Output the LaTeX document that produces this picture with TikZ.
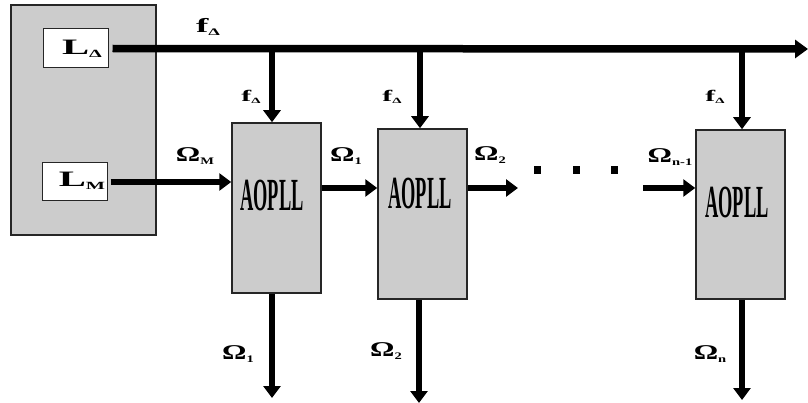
\documentclass[tikz,border=0pt]{standalone}
\usepackage{fontspec}
\setmainfont{Liberation Serif}
\usetikzlibrary{arrows.meta}
\newcommand\wlab[3]{\scalebox{#1}[1]{\bfseries\fontsize{#2}{#2}\selectfont #3}}
\newcommand\sbs[2]{\raisebox{-0.25ex}{\fontsize{#1}{#1}\selectfont #2}}
\begin{document}
\begin{tikzpicture}[x=1pt,y=-1pt,
  gbox/.style={draw=black!85,line width=1.5pt,fill=black!20,inner sep=0pt},
  wbox/.style={draw=black!85,line width=1pt,fill=white,inner sep=0pt},
  wire/.style={line width=6.5pt,-{Triangle[length=12pt,width=17pt]}},
  busline/.style={line width=7.5pt,-{Triangle[length=13pt,width=18pt]}},
  lab/.style={inner sep=0pt},
  aop/.style={inner sep=0pt,font=\fontsize{46}{46}\selectfont},
  dotsq/.style={fill=black,inner sep=0pt,minimum width=7pt,minimum height=8pt}
]
\useasboundingbox (0,0) rectangle (808,403);
% boxes
\node[gbox,minimum width=145pt,minimum height=230pt] (ctl) at (83.5,120) {};
\node[wbox,minimum width=65pt,minimum height=39pt] (Ld) at (75.5,48.5) {};
\node[wbox,minimum width=65pt,minimum height=38pt] (Lm) at (74.5,182) {};
\node[gbox,minimum width=89pt,minimum height=170pt] (A1) at (276.5,208) {};
\node[gbox,minimum width=89pt,minimum height=170pt] (A2) at (422.5,214) {};
\node[gbox,minimum width=89pt,minimum height=169pt] (A3) at (740.5,214.5) {};
% box texts
\node[lab] (tLd) at (82,49) {\wlab{1.85}{22}{L\sbs{11}{Δ}}};
\node[lab] (tLm) at (82,181) {\wlab{1.85}{22}{L\sbs{11}{M}}};
\node[aop] (t1) at (272,195) {\scalebox{0.4}[1]{\bfseries AOPLL}};
\node[aop] (t2) at (420,193) {\scalebox{0.4}[1]{\bfseries AOPLL}};
\node[aop] (t3) at (737,202) {\scalebox{0.4}[1]{\bfseries AOPLL}};
% coordinates
\coordinate (busend) at (808,49);
\coordinate (j1) at (272,49);
\coordinate (j2) at (420,49);
\coordinate (j3) at (742,49);
\coordinate (row) at (0,188);
\coordinate (d1) at (518,188);
\coordinate (d2) at (643,188);
\coordinate (e1) at (272,398);
\coordinate (e2) at (419,403);
\coordinate (e3) at (742,400);
% bus
\draw[busline,shorten <=4pt] (Ld.east) -- (busend);
\draw[wire] (j1) -- (j1 |- A1.north);
\draw[wire] (j2) -- (j2 |- A2.north);
\draw[wire] (j3) -- (j3 |- A3.north);
% chain
\draw[wire,shorten <=3pt] (Lm.east) -- (Lm.east -| A1.west);
\draw[wire] (A1.east |- row) -- (A2.west |- row);
\draw[wire] (A2.east |- row) -- (d1);
\draw[wire] (d2) -- (A3.west |- row);
\node[dotsq] (s1) at (537,170) {};
\node[dotsq] (s2) at (576,170) {};
\node[dotsq] (s3) at (614,170) {};
% outputs
\draw[wire] (e1 |- A1.south) -- (e1);
\draw[wire] (e2 |- A2.south) -- (e2);
\draw[wire] (e3 |- A3.south) -- (e3);
% labels
\node[lab] (fT) at (208,27) {\wlab{1.85}{20}{f\sbs{10}{Δ}}};
\node[lab] (f1) at (251,97) {\wlab{1.85}{16}{f\sbs{8}{Δ}}};
\node[lab] (f2) at (392,97) {\wlab{1.85}{16}{f\sbs{8}{Δ}}};
\node[lab] (f3) at (715,97) {\wlab{1.85}{16}{f\sbs{8}{Δ}}};
\node[lab] (oM) at (195,156) {\wlab{1.45}{21}{Ω\sbs{10}{M}}};
\node[lab] (o1) at (346,156) {\wlab{1.45}{21}{Ω\sbs{10}{1}}};
\node[lab] (o2) at (490,155) {\wlab{1.45}{21}{Ω\sbs{10}{2}}};
\node[lab] (on1) at (670,157) {\wlab{1.45}{21}{Ω\sbs{10}{n-1}}};
\node[lab] (b1) at (238,354) {\wlab{1.45}{21}{Ω\sbs{10}{1}}};
\node[lab] (b2) at (386,351) {\wlab{1.45}{21}{Ω\sbs{10}{2}}};
\node[lab] (bn) at (710,354) {\wlab{1.45}{21}{Ω\sbs{10}{n}}};
\end{tikzpicture}
\end{document}
